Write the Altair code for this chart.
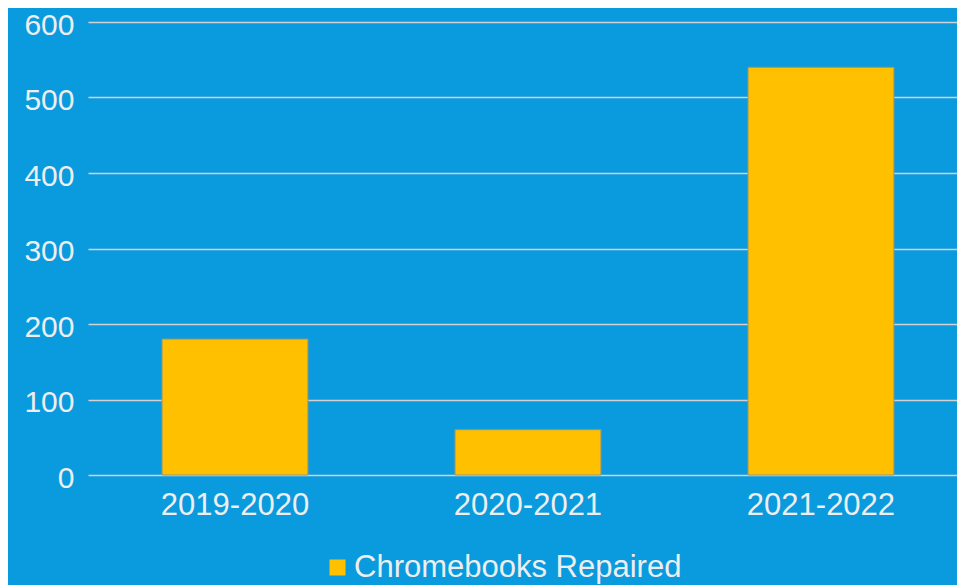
import altair as alt
import pandas as pd

years = ["2019-2020", "2020-2021", "2021-2022"]
repaired = [180, 60, 540]
series_name = "Chromebooks Repaired"
y_ticks = [0, 100, 200, 300, 400, 500, 600]

df = pd.DataFrame({"year": years, "value": repaired, "series": [series_name] * len(years)})

FONT = "Liberation Sans"
TXT = "#eeeeee"
FS = 31

chart = alt.Chart(df).mark_bar(stroke="#9c9470", strokeWidth=1).encode(
    x=alt.X(
        "year:N",
        sort=years,
        scale=alt.Scale(paddingInner=0.502, paddingOuter=0.234, align=0.54),
        axis=alt.Axis(
            title=None, labelAngle=0, labelFontSize=FS, labelColor=TXT,
            labelFont=FONT, labelPadding=15, ticks=False, domain=False, grid=False,
        ),
    ),
    y=alt.Y(
        "value:Q",
        scale=alt.Scale(domain=[0, 600], nice=False),
        axis=alt.Axis(
            title=None, values=y_ticks, labelFontSize=30, labelColor=TXT,
            labelFont=FONT, labelPadding=14, ticks=False, domain=False,
            labelBaseline="alphabetic", labelOffset=12,
            gridColor="#d2d2d2", gridWidth=1.5,
        ),
    ),
    color=alt.Color(
        "series:N",
        scale=alt.Scale(range=["#FFC000"]),
        legend=alt.Legend(
            title=None, orient="none", legendX=234, legendY=530,
            symbolType="square", symbolSize=256, symbolStrokeWidth=0,
            labelFontSize=31, labelColor=TXT, labelFont=FONT, labelOffset=1,
            labelLimit=0,
        ),
    ),
).properties(
    width=869,
    height=453,
    background="#0a9ade",
    padding={"left": 80, "top": 14, "right": 0, "bottom": 110},
    autosize=alt.AutoSizeParams(type="none"),
).configure_view(stroke=None)

chart.save("out.html", embed_options={"renderer": "svg", "actions": False})
